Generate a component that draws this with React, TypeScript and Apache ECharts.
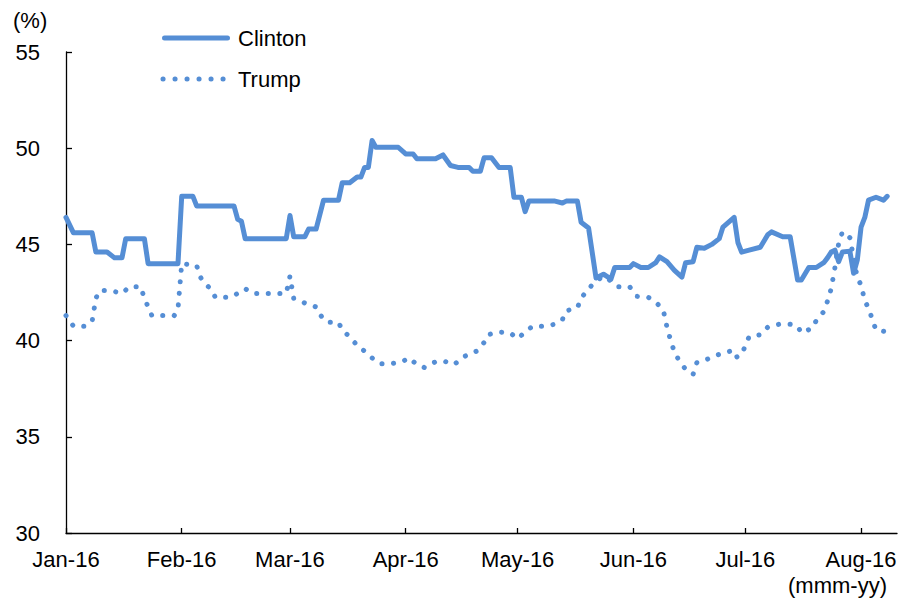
import React, { useEffect, useRef } from "react";
import * as echarts from "echarts";

const monthLabels = ["Jan", "Feb", "Mar", "Apr", "May", "Jun", "Jul", "Aug", "Sep", "Oct", "Nov", "Dec"];
const yTicks = { min: 30, max: 55, interval: 5 };
const seriesNames = ["Clinton", "Trump"];

const clintonDates = [
  "2016-01-01", "2016-01-03", "2016-01-08", "2016-01-09", "2016-01-12", "2016-01-14", "2016-01-16", "2016-01-17",
  "2016-01-22", "2016-01-23", "2016-01-31", "2016-02-01", "2016-02-04", "2016-02-05", "2016-02-15", "2016-02-16",
  "2016-02-17", "2016-02-18", "2016-02-29", "2016-03-01", "2016-03-02", "2016-03-05", "2016-03-06", "2016-03-08",
  "2016-03-10", "2016-03-14", "2016-03-15", "2016-03-17", "2016-03-19", "2016-03-20", "2016-03-21", "2016-03-22",
  "2016-03-23", "2016-03-24", "2016-03-30", "2016-04-01", "2016-04-03", "2016-04-04", "2016-04-09", "2016-04-11",
  "2016-04-13", "2016-04-15", "2016-04-18", "2016-04-19", "2016-04-21", "2016-04-22", "2016-04-24", "2016-04-26",
  "2016-04-29", "2016-04-30", "2016-05-02", "2016-05-03", "2016-05-04", "2016-05-11", "2016-05-13", "2016-05-14",
  "2016-05-17", "2016-05-18", "2016-05-20", "2016-05-22", "2016-05-24", "2016-05-26", "2016-05-27", "2016-05-31",
  "2016-06-01", "2016-06-03", "2016-06-05", "2016-06-07", "2016-06-08", "2016-06-10", "2016-06-12", "2016-06-14",
  "2016-06-15", "2016-06-17", "2016-06-18", "2016-06-20", "2016-06-22", "2016-06-24", "2016-06-25", "2016-06-28",
  "2016-06-29", "2016-06-30", "2016-07-02", "2016-07-05", "2016-07-07", "2016-07-08", "2016-07-11", "2016-07-13",
  "2016-07-15", "2016-07-16", "2016-07-18", "2016-07-20", "2016-07-22", "2016-07-23", "2016-07-24", "2016-07-25",
  "2016-07-26", "2016-07-27", "2016-07-29", "2016-07-30", "2016-07-31", "2016-08-01", "2016-08-02", "2016-08-03",
  "2016-08-05", "2016-08-07", "2016-08-08",
];
const clintonValues = [
  46.4, 45.6, 45.6, 44.6, 44.6, 44.3, 44.3, 45.3,
  45.3, 44.0, 44.0, 47.5, 47.5, 47.0, 47.0, 46.3,
  46.2, 45.3, 45.3, 46.5, 45.4, 45.4, 45.8, 45.8,
  47.3, 47.3, 48.2, 48.2, 48.5, 48.5, 49.0, 49.0,
  50.4, 50.05, 50.05, 49.7, 49.7, 49.45, 49.45, 49.65,
  49.1, 49.0, 49.0, 48.8, 48.8, 49.5, 49.5, 49.0,
  49.0, 47.45, 47.45, 46.7, 47.25, 47.25, 47.15, 47.25,
  47.25, 46.15, 45.85, 43.25, 43.45, 43.2, 43.8, 43.8,
  44.0, 43.8, 43.8, 44.05, 44.35, 44.1, 43.65, 43.3,
  44.05, 44.1, 44.85, 44.8, 45.0, 45.3, 45.9, 46.4,
  45.1, 44.6, 44.7, 44.85, 45.5, 45.65, 45.4, 45.4,
  43.15, 43.15, 43.8, 43.8, 44.05, 44.3, 44.6, 44.7,
  44.1, 44.6, 44.65, 43.5, 44.2, 45.9, 46.4, 47.3,
  47.45, 47.3, 47.5,
];

const trumpDates = [
  "2016-01-01", "2016-01-03", "2016-01-06", "2016-01-08", "2016-01-09", "2016-01-10", "2016-01-13", "2016-01-16",
  "2016-01-18", "2016-01-21", "2016-01-22", "2016-01-24", "2016-01-30", "2016-01-31", "2016-02-01", "2016-02-05",
  "2016-02-06", "2016-02-07", "2016-02-09", "2016-02-10", "2016-02-14", "2016-02-16", "2016-02-18", "2016-02-20",
  "2016-02-29", "2016-03-01", "2016-03-02", "2016-03-05", "2016-03-08", "2016-03-09", "2016-03-11", "2016-03-14",
  "2016-03-15", "2016-03-17", "2016-03-19", "2016-03-21", "2016-03-23", "2016-03-25", "2016-03-28", "2016-03-31",
  "2016-04-02", "2016-04-04", "2016-04-06", "2016-04-09", "2016-04-11", "2016-04-14", "2016-04-16", "2016-04-18",
  "2016-04-20", "2016-04-22", "2016-04-23", "2016-04-26", "2016-04-29", "2016-05-01", "2016-05-03", "2016-05-05",
  "2016-05-08", "2016-05-11", "2016-05-13", "2016-05-14", "2016-05-17", "2016-05-18", "2016-05-20", "2016-05-22",
  "2016-05-24", "2016-05-26", "2016-05-28", "2016-05-31", "2016-06-02", "2016-06-05", "2016-06-07", "2016-06-09",
  "2016-06-10", "2016-06-11", "2016-06-12", "2016-06-13", "2016-06-15", "2016-06-17", "2016-06-18", "2016-06-20",
  "2016-06-22", "2016-06-25", "2016-06-27", "2016-06-28", "2016-06-30", "2016-07-01", "2016-07-02", "2016-07-05",
  "2016-07-07", "2016-07-10", "2016-07-13", "2016-07-15", "2016-07-16", "2016-07-19", "2016-07-20", "2016-07-22",
  "2016-07-23", "2016-07-24", "2016-07-25", "2016-07-26", "2016-07-27", "2016-07-29", "2016-07-31", "2016-08-01",
  "2016-08-02", "2016-08-03", "2016-08-04", "2016-08-05", "2016-08-08",
];
const trumpValues = [
  41.3, 40.75, 40.75, 41.0, 42.2, 42.6, 42.6, 42.45,
  42.8, 42.8, 42.2, 41.3, 41.3, 41.65, 44.0, 43.9,
  43.3, 43.0, 42.65, 42.25, 42.25, 42.45, 42.7, 42.45,
  42.45, 43.35, 42.2, 41.95, 41.75, 41.35, 40.95, 40.95,
  40.55, 40.2, 39.75, 39.45, 39.1, 38.8, 38.8, 38.9,
  39.1, 38.75, 38.6, 38.9, 38.95, 38.75, 39.1, 39.3,
  39.45, 39.9, 40.3, 40.45, 40.4, 40.1, 40.45, 40.75,
  40.75, 40.85, 41.1, 41.55, 41.7, 42.2, 42.7, 43.1,
  43.35, 43.1, 42.8, 42.8, 42.3, 42.25, 42.0, 41.6,
  40.7, 40.0, 39.4, 39.05, 38.5, 38.25, 38.85, 38.95,
  39.15, 39.35, 39.45, 39.1, 39.25, 39.75, 40.2, 40.3,
  40.7, 40.85, 40.85, 40.75, 40.4, 40.65, 41.05, 41.5,
  42.05, 42.7, 43.8, 45.05, 45.65, 45.35, 43.25, 42.9,
  42.05, 41.7, 41.1, 40.55, 40.45,
];

const xStart = "2016-01-01";
const xEnd = "2016-08-10T15:00:00";

const BLUE = "#558ED5";
const FONT = "'Liberation Sans', Arial, sans-serif";
const DOTS = [0.1, 11.5];

export default function App() {
  const ref = useRef<HTMLDivElement>(null);

  useEffect(() => {
    if (!ref.current) return;
    const chart = echarts.init(ref.current, undefined, { renderer: "svg" });
    const clintonData = clintonDates.map((d, i) => [d, clintonValues[i]]);
    const trumpData = trumpDates.map((d, i) => [d, trumpValues[i]]);
    const DAY = 24 * 3600 * 1000;

    chart.setOption({
      animation: false,
      textStyle: { fontFamily: FONT },
      grid: { left: 66, top: 52, right: 4, bottom: 68, containLabel: false },
      xAxis: {
        type: "time",
        min: xStart,
        max: xEnd,
        minInterval: 28 * DAY,
        maxInterval: 31 * DAY,
        splitLine: { show: false },
        axisLine: { lineStyle: { color: "#000", width: 1.3 } },
        axisTick: { show: true, inside: true, length: 5, lineStyle: { color: "#000", width: 1.3 } },
        axisLabel: {
          margin: 15,
          fontSize: 22,
          color: "#000",
          fontFamily: FONT,
          showMaxLabel: false,
          formatter: (v: number) => {
            const d = new Date(v);
            return monthLabels[d.getMonth()] + "-" + String(d.getFullYear()).slice(2);
          },
        },
      },
      yAxis: {
        type: "value",
        min: yTicks.min,
        max: yTicks.max,
        interval: yTicks.interval,
        splitLine: { show: false },
        axisLine: { show: true, lineStyle: { color: "#000", width: 1.3 } },
        axisTick: { show: true, inside: true, length: 6, lineStyle: { color: "#000", width: 1.3 } },
        axisLabel: { margin: 26, fontSize: 22, color: "#000", fontFamily: FONT },
      },
      graphic: [
        {
          type: "text",
          left: 13,
          top: 9,
          style: { text: "(%)", fontSize: 22, fill: "#000", fontFamily: FONT },
        },
        {
          type: "text",
          right: 14,
          top: 574,
          style: { text: "(mmm-yy)", fontSize: 22, fill: "#000", fontFamily: FONT },
        },
        {
          type: "line",
          shape: { x1: 164.5, y1: 38, x2: 227.5, y2: 38 },
          style: { stroke: BLUE, lineWidth: 5, lineCap: "round" },
        },
        {
          type: "text",
          x: 238,
          y: 38,
          style: { text: seriesNames[0], fontSize: 22, fill: "#000", fontFamily: FONT, verticalAlign: "middle" },
        },
        {
          type: "line",
          shape: { x1: 163, y1: 79, x2: 224, y2: 79 },
          style: { stroke: BLUE, lineWidth: 5, lineCap: "round", lineDash: [0.1, 11.9] },
        },
        {
          type: "text",
          x: 238,
          y: 79,
          style: { text: seriesNames[1], fontSize: 22, fill: "#000", fontFamily: FONT, verticalAlign: "middle" },
        },
      ],
      series: [
        {
          name: seriesNames[0],
          type: "line",
          data: clintonData,
          symbol: "none",
          lineStyle: { color: BLUE, width: 5, join: "round", cap: "round" },
          itemStyle: { color: BLUE },
        },
        {
          name: seriesNames[1],
          type: "line",
          data: trumpData,
          symbol: "none",
          lineStyle: { color: BLUE, width: 5, type: DOTS, cap: "round", join: "round" },
          itemStyle: { color: BLUE },
        },
      ],
    });
    return () => chart.dispose();
  }, []);

  return <div ref={ref} style={{ width: 901, height: 601, position: "absolute", left: 0, top: 0 }} />;
}
